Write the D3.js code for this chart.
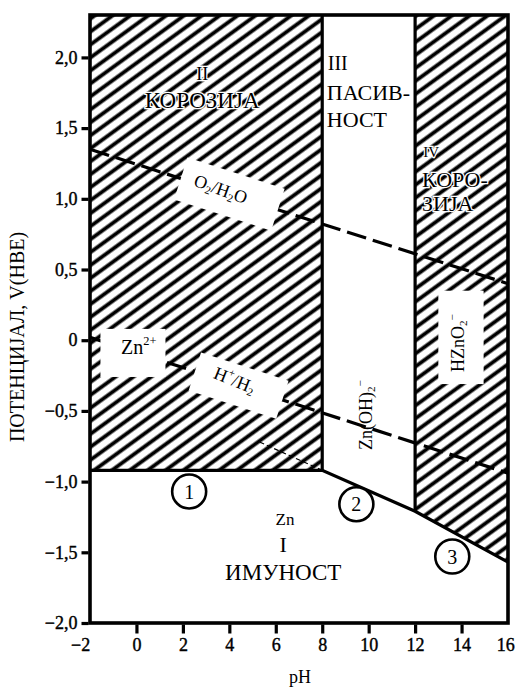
<!DOCTYPE html>
<html>
<head>
<meta charset="utf-8">
<script src="https://cdn.jsdelivr.net/npm/d3@7"></script>
<style>
  html, body { margin: 0; padding: 0; background: #fff; }
  text { font-family: "Liberation Serif", "DejaVu Serif", serif; fill: #000; }
</style>
</head>
<body>
<svg id="chart" width="515" height="690"></svg>
<script>
// Axis ticks and their printed labels
const phTicks = [-2, 0, 2, 4, 6, 8, 10, 12, 14, 16];
const phTickLabels = ["−2", "0", "2", "4", "6", "8", "10", "12", "14", "16"];
const eTicks = [-2, -1.5, -1, -0.5, 0, 0.5, 1, 1.5, 2];
const eTickLabels = ["−2,0", "−1,5", "−1,0", "−0,5", "0", "0,5", "1,0", "1,5", "2,0"];

// Lower boundary of the corrosion / passivity fields (pH, E in V)
const znBoundary = [[-2, -0.92], [8, -0.92], [12, -1.21], [16, -1.57]];
// pH limits of the passive field
const passiveLimits = [8, 12];
// Water stability lines (pH, E)
const o2Line = [[-2, 1.35], [16, 0.40]];
const h2Line = [[-2, 0.02], [16, -0.94]];
// Metastable continuation of the Zn(OH)2 / Zn line
const metastableLine = [[5.3, -0.72], [8, -0.92]];
// Numbered equilibria
const reactionNumbers = ["1", "2", "3"];
const reactionPoints = [[2.27, -1.07], [9.47, -1.16], [13.6, -1.53]];

const svg = d3.select("#chart");
const x = d3.scaleLinear().domain([-2, 16]).range([90, 508]);
const y = d3.scaleLinear().domain([-2, 2.3]).range([623, 15]);
const [pMin, pMax] = x.domain();
const [eMin, eMax] = y.domain();

// Diagonal hatching for the corrosion fields
const defs = svg.append("defs");
const pat = defs.append("pattern")
  .attr("id", "hatch")
  .attr("patternUnits", "userSpaceOnUse")
  .attr("width", 10.5).attr("height", 10.5)
  .attr("patternTransform", "rotate(-36)");
pat.append("rect").attr("width", 10.5).attr("height", 10.5).attr("fill", "#fff");
pat.append("line")
  .attr("x1", 0).attr("x2", 10.5).attr("y1", 5.25).attr("y2", 5.25)
  .attr("stroke", "#000").attr("stroke-width", 3.8);

const line = d3.line().x(d => x(d[0])).y(d => y(d[1]));

// Field II: Zn2+ corrosion
const fieldII = [[pMin, eMax], [passiveLimits[0], eMax], [passiveLimits[0], znBoundary[1][1]], [pMin, znBoundary[0][1]]];
svg.append("path").attr("d", line(fieldII) + "Z").attr("fill", "url(#hatch)");
// Field IV: HZnO2- corrosion
const fieldIV = [[passiveLimits[1], eMax], [pMax, eMax], znBoundary[3], znBoundary[2]];
svg.append("path").attr("d", line(fieldIV) + "Z").attr("fill", "url(#hatch)");

// Water lines (dashed)
[o2Line, h2Line].forEach(l => {
  svg.append("path").attr("d", line(l))
    .attr("fill", "none").attr("stroke", "#000")
    .attr("stroke-width", 3.2).attr("stroke-dasharray", "20,7");
});
svg.append("path").attr("d", line(metastableLine))
  .attr("fill", "none").attr("stroke", "#000")
  .attr("stroke-width", 1.2).attr("stroke-dasharray", "5,3");

// White label backgrounds
function angleOf(l) {
  return Math.atan2(y(l[1][1]) - y(l[0][1]), x(l[1][0]) - x(l[0][0])) * 180 / Math.PI;
}
const eOn = (l, p) => l[0][1] + (l[1][1] - l[0][1]) * (p - l[0][0]) / (l[1][0] - l[0][0]);

function bandBox(l, p, w, h) {
  svg.append("rect")
    .attr("transform", `translate(${x(p)},${y(eOn(l, p))}) rotate(${angleOf(l)})`)
    .attr("x", -w / 2).attr("y", -h / 2).attr("width", w).attr("height", h)
    .attr("fill", "#fff");
}
bandBox(o2Line, 4.0, 102, 44);
bandBox(h2Line, 4.4, 92, 40);
// Zn2+ label background
svg.append("rect")
  .attr("x", x(-1.55)).attr("y", y(0.08))
  .attr("width", x(1.25) - x(-1.55)).attr("height", y(-0.26) - y(0.08))
  .attr("fill", "#fff");
// HZnO2- label background
svg.append("rect")
  .attr("x", x(13.0)).attr("y", y(0.35))
  .attr("width", x(14.95) - x(13.0)).attr("height", y(-0.31) - y(0.35))
  .attr("fill", "#fff");

// Field boundaries
svg.append("path").attr("d", line(znBoundary))
  .attr("fill", "none").attr("stroke", "#000").attr("stroke-width", 3.2);
passiveLimits.forEach((p, i) => {
  const eLow = i === 0 ? znBoundary[1][1] : znBoundary[2][1];
  svg.append("path").attr("d", line([[p, eMax], [p, eLow]]))
    .attr("fill", "none").attr("stroke", "#000").attr("stroke-width", 3.2);
});

// Frame
svg.append("rect")
  .attr("x", x(pMin)).attr("y", y(eMax))
  .attr("width", x(pMax) - x(pMin)).attr("height", y(eMin) - y(eMax))
  .attr("fill", "none").attr("stroke", "#000").attr("stroke-width", 3.6);

// Axes
const yAxis = svg.append("g")
  .attr("transform", `translate(${x(pMin) - 1.5},0)`)
  .call(d3.axisLeft(y).tickValues(eTicks).tickFormat((d, i) => eTickLabels[i])
    .tickSize(7).tickPadding(4).tickSizeOuter(0));
const xAxis = svg.append("g")
  .attr("transform", `translate(0,${y(eMin) + 1.5})`)
  .call(d3.axisBottom(x).tickValues(phTicks).tickFormat((d, i) => phTickLabels[i])
    .tickSize(9).tickPadding(5).tickSizeOuter(0));
[yAxis, xAxis].forEach(g => {
  g.select(".domain").remove();
  g.selectAll(".tick line").attr("stroke", "#000").attr("stroke-width", 3.2);
  g.selectAll(".tick text")
    .attr("font-family", "Liberation Serif, serif")
    .attr("font-size", 18).attr("fill", "#000")
    .attr("stroke", "#000").attr("stroke-width", 0.4);
});
xAxis.selectAll(".tick").filter(d => d === pMin || d === pMax).select("line").remove();
xAxis.selectAll(".tick text").filter(d => d < 0).attr("dx", "-0.55em");
xAxis.selectAll(".tick text").filter(d => d === pMax).attr("dx", "-0.15em");

// Axis titles
svg.append("text").attr("x", (x(pMin) + x(pMax)) / 2 + 1).attr("y", 683)
  .attr("text-anchor", "middle").attr("font-size", 18).text("pH");
svg.append("text")
  .attr("transform", `translate(24,${(y(eMin) + y(eMax)) / 2 + 18}) rotate(-90)`)
  .attr("text-anchor", "middle").attr("font-size", 20)
  .text("ПОТЕНЦИЈАЛ, V(HBE)");

// Region captions
function label(txt, p, e, size, anchor, halo) {
  const t = svg.append("text").attr("x", x(p)).attr("y", y(e))
    .attr("font-size", size).attr("text-anchor", anchor || "start").text(txt);
  if (halo) t.attr("stroke", "#fff").attr("stroke-width", 2.5).attr("paint-order", "stroke");
  return t;
}
label("II", 2.83, 1.837, 18, "middle", true);
label("КОРОЗИЈА", 2.83, 1.64, 23, "middle", true);
label("III", 8.24, 1.908, 20);
label("ПАСИВ-", 8.2, 1.696, 22);
label("НОСТ", 8.2, 1.505, 22);
label("IV", 12.35, 1.293, 15, "start", true);
label("КОРО-", 12.3, 1.081, 22, "start", true);
label("ЗИЈА", 12.3, 0.912, 22, "start", true);
label("Zn", 6.4, -1.307, 17, "middle");
label("I", 6.32, -1.498, 22, "middle");
label("ИМУНОСТ", 6.32, -1.696, 23, "middle");

// Species labels with sub/superscripts
function chem(parts, cx, cy, rot, size) {
  const t = svg.append("text")
    .attr("transform", `translate(${cx},${cy}) rotate(${rot})`)
    .attr("text-anchor", "middle").attr("dominant-baseline", "middle")
    .attr("font-size", size);
  let shift = 0;
  parts.forEach(([s, kind]) => {
    const target = kind === "sub" ? 4 : kind === "sup" ? -7 : 0;
    t.append("tspan").attr("dy", target - shift)
      .attr("font-size", kind ? size * 0.62 : size).text(s);
    shift = target;
  });
  return t;
}
chem([["O"], ["2", "sub"], ["/H"], ["2", "sub"], ["O"]], x(3.6), y(eOn(o2Line, 3.6)), angleOf(o2Line) + 2, 18);
chem([["H"], ["+", "sup"], ["/H"], ["2", "sub"]], x(4.2), y(eOn(h2Line, 4.2)) - 2, angleOf(h2Line) + 4, 18);
chem([["Zn"], ["2+", "sup"]], x(0.1), y(-0.06), 0, 20);
chem([["Zn(OH)"], ["2", "sub"], ["−", "sup"]], x(9.97), y(-0.53), -90, 18);
chem([["HZnO"], ["2", "sub"], ["−", "sup"]], x(13.93), y(-0.02), -90, 18);

// Numbered equilibria
const marks = svg.selectAll("g.eq").data(reactionPoints).join("g")
  .attr("class", "eq")
  .attr("transform", d => `translate(${x(d[0])},${y(d[1])})`);
marks.append("circle").attr("r", 17).attr("fill", "#fff")
  .attr("stroke", "#000").attr("stroke-width", 2.6);
marks.append("text").attr("text-anchor", "middle").attr("dy", "0.35em")
  .attr("font-size", 20).text((d, i) => reactionNumbers[i]);
</script>
</body>
</html>
